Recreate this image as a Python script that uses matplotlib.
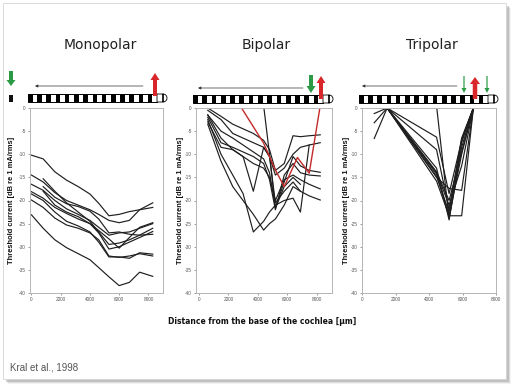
import numpy as np
import matplotlib
matplotlib.use('Agg')
import matplotlib.pyplot as plt
from matplotlib.patches import Rectangle, Polygon, FancyArrow

plt.rcParams['axes.unicode_minus'] = False

# ---------------- data ----------------
titles = ['Monopolar', 'Bipolar', 'Tripolar']
ylabel = 'Threshold current [dB re 1 mA/rms]'
xlabel = 'Distance from the base of the cochlea [µm]'
credit = 'Kral et al., 1998'
y_ticks = [0, -5, -10, -15, -20, -25, -30, -35, -40]
x_ticks = [0, 2000, 4000, 6000, 8000]

nan = np.nan
mono_x = [0, 800, 1600, 2400, 3200, 4000, 4600, 5300, 6000, 6700, 7400, 8300]
mono_lines = [
    [-10.2, -11.0, -13.8, -15.6, -17.0, -18.6, -20.6, -23.3, -23.0, -22.4, -22.0, -21.5],
    [-14.5, -16.0, -18.3, -20.0, -21.0, -22.0, -23.0, -24.3, -24.8, -24.3, -22.0, -20.5],
    [-16.5, -17.8, -20.0, -21.8, -23.0, -24.3, -25.8, -27.5, -27.0, -26.8, -26.0, -25.0],
    [-18.1, -19.5, -21.5, -22.8, -24.0, -25.0, -26.5, -28.3, -30.3, -28.0, -25.8, -24.8],
    [-19.9, -21.5, -23.8, -25.3, -26.0, -27.0, -28.5, -32.0, -32.3, -32.0, -31.5, -32.0],
    [-23.1, -26.0, -28.5, -30.2, -31.5, -32.8, -34.5, -36.5, -38.4, -37.7, -35.5, -36.4],
    [nan, -15.3, -18.0, -20.5, -22.5, -24.5, -26.8, -29.5, -29.2, -28.5, -27.5, -26.0],
    [nan, -17.0, -19.3, -20.7, -21.3, -22.3, -24.0, -27.0, -26.8, -27.3, -27.5, -27.3],
    [-18.6, -20.0, -22.5, -24.5, -25.5, -26.8, -29.0, -32.2, -32.2, -32.5, -31.3, -31.6],
    [nan, -18.0, -21.0, -22.5, -23.5, -25.0, -27.0, -30.5, -30.0, -29.0, -28.0, -26.7],
]

bi_x = [600, 1500, 2300, 3000, 3700, 4400, 4800, 5200, 5800, 6400, 6900, 7500, 8250]
bi_lines = [
    [0.0, -1.8, -3.5, -4.5, -5.5, -7.0, -9.0, -13.5, -12.0, -6.0, -6.2, -6.0, -5.8],
    [-0.5, -2.5, -5.5, -6.5, -7.5, -8.5, -10.5, -14.5, -13.0, -10.0, -8.5, -8.0, -7.5],
    [-1.5, -5.0, -6.5, -8.0, -9.5, -11.0, -14.0, -21.5, -16.0, -10.5, -12.5, -13.5, -13.9],
    [-2.0, -7.5, -8.5, -9.5, -10.5, -12.0, -15.5, -22.0, -14.5, -12.0, -14.0, -14.5, -14.7],
    [-3.0, -8.5, -9.0, -10.5, -12.0, -13.0, -15.0, -20.0, -15.5, -14.5, -15.5, -16.5, -17.5],
    [-1.5, -6.5, -9.0, -10.5, -18.0, -8.5, -10.5, -20.5, -18.0, -16.0, -18.0, -19.0, -19.9],
    [-2.5, -10.0, -14.5, -18.5, -26.8, -24.5, -22.5, -21.0, -20.0, -19.5, -22.5, -8.0, nan],
    [nan, nan, nan, nan, nan, 0.5, -10.0, -21.7, -17.0, -15.0, -16.5, nan, nan],
    [-3.5, -11.5, -17.0, -20.0, -23.0, -26.4, -25.0, -24.0, -21.0, -17.0, -18.0, nan, nan],
]
bi_red_x = [2800, 4400, 5200, 5800, 6700, 7500, 8250]
bi_red_y = [0.5, -7.6, -13.4, -17.0, -10.7, -14.1, 0.5]

tri_x = [730, 1500, 4450, 5200, 5950, 6650]
tri_lines = [
    [-1.2, 0, -6.3, -18.5, -7.0, 0],
    [-3.2, 0, -9.0, -22.0, -6.5, 0],
    [-6.6, 0, -13.0, -24.2, -8.5, 0],
    [nan, 0, -14.3, -23.5, -10.0, 0],
    [nan, 0, -15.0, -17.4, -17.8, 0],
    [nan, 0, -15.8, -23.3, -23.3, 0],
    [nan, 0, -14.0, -21.0, -12.5, 0],
    [nan, nan, 0.5, -23.9, -7.5, 0],
    [nan, 0, -13.8, -20.0, -9.5, 0],
    [nan, 0, -14.8, -22.5, -6.8, 0],
]

# ---------------- layout ----------------
W, H = 512, 384
fig = plt.figure(figsize=(W / 100, H / 100), dpi=100)
fig.patch.set_facecolor('white')

bg = fig.add_axes([0, 0, 1, 1], zorder=-1)
bg.set_xlim(0, W)
bg.set_ylim(H, 0)
bg.axis('off')

# slide with shadow
for i, a in enumerate([0.10, 0.18, 0.30]):
    off = 5 - i
    bg.add_patch(Rectangle((3 + off, 3 + off), 503, 376, facecolor='#808080',
                           edgecolor='none', alpha=a))
bg.add_patch(Rectangle((3, 3), 503, 376, facecolor='white', edgecolor='#d4d4d4', lw=0.6))

# axes positions in pixels: (left, right, xlim)
panels = [
    (30, 163, (-100, 9000)),
    (196, 332, (-200, 9050)),
    (362, 496, (0, 8000)),
]
top_px, bot_px = 108, 293
title_x = [100, 266, 432]
ylab_x = [12, 180, 346]

line_color = '#1e1e1e'
data = [(mono_x, mono_lines), (bi_x, bi_lines), (tri_x, tri_lines)]

axes = []
for k, (l, r, xl) in enumerate(panels):
    ax = fig.add_axes([l / W, (H - bot_px) / H, (r - l) / W, (bot_px - top_px) / H])
    ax.set_xlim(*xl)
    ax.set_ylim(-40, 0)
    xs, lines = data[k]
    for ys in lines:
        ax.plot(xs, ys, color=line_color, lw=0.85)
    if k == 1:
        ax.plot(bi_red_x, bi_red_y, color='#c42a2a', lw=1.0)
    ax.set_yticks(y_ticks)
    ax.set_xticks(x_ticks)
    ax.set_yticklabels([str(v) for v in y_ticks])
    ax.set_xticklabels([str(v) for v in x_ticks])
    ax.tick_params(labelsize=3.4, colors='#555555', length=1.5, width=0.4, pad=1.5)
    for lab in ax.get_xticklabels() + ax.get_yticklabels():
        lab.set_family('Liberation Sans')
    for s in ax.spines.values():
        s.set_color('#b5b5b5')
        s.set_linewidth(0.7)
    axes.append(ax)
    bg.text(title_x[k], 45, titles[k], ha='center', va='center', fontsize=10,
            color='#222222', family='DejaVu Sans')
    bg.text(ylab_x[k], (top_px + bot_px) / 2, ylabel, rotation=90, ha='center',
            va='center', fontsize=5.4, fontweight='bold', color='#111111',
            family=['Liberation Sans Narrow', 'Liberation Sans'])

bg.text(262, 321, xlabel, ha='center', va='center', fontsize=5.5,
        fontweight='bold', color='#111111', family='DejaVu Sans')
bg.text(10, 368, credit, ha='left', va='center', fontsize=7, color='#555555',
        family='Liberation Sans')


# ---------------- electrode drawings ----------------
def electrode(x0, x1, y0, y1, n, tip):
    bg.add_patch(Rectangle((x0, y0), x1 - x0, y1 - y0, facecolor='white',
                           edgecolor='black', lw=0.7))
    p = (x1 - x0) / n
    for i in range(n):
        bg.add_patch(Rectangle((x0 + i * p, y0), p * 0.5, y1 - y0,
                               facecolor='black', edgecolor='none'))
    ym = (y0 + y1) / 2
    h = (y1 - y0) / 2
    t = np.linspace(-np.pi / 2, np.pi / 2, 20)
    pts = [(x1, y0), (x1 + tip - h, y0)] + \
          [(x1 + tip - h + h * np.cos(a), ym + h * np.sin(a)) for a in -t] + \
          [(x1 + tip - h, y1), (x1, y1)]
    bg.add_patch(Polygon(pts, closed=True, facecolor='white', edgecolor='black', lw=0.6))


def thin_arrow(xa, xb, y):
    bg.annotate('', xy=(xa, y), xytext=(xb, y),
                arrowprops=dict(arrowstyle='-|>', lw=0.5, color='#333333',
                                mutation_scale=4, shrinkA=0, shrinkB=0))


green, red = '#2a9a45', '#d8262a'

electrode(28, 157, 94, 102, 14, 10)
bg.add_patch(FancyArrow(11, 71, 0, 15, width=4, head_width=9, head_length=6,
                        length_includes_head=True, color=green, lw=0))
bg.add_patch(Rectangle((9, 95), 4, 7, facecolor='#111111', edgecolor='none'))
bg.add_patch(FancyArrow(155, 96, 0, -23, width=4, head_width=9, head_length=7,
                        length_includes_head=True, color=red, lw=0))
thin_arrow(35, 143, 86)

electrode(193, 323, 95, 103, 14, 10)
bg.add_patch(FancyArrow(311, 75, 0, 18, width=4, head_width=9, head_length=7,
                        length_includes_head=True, color=green, lw=0))
bg.add_patch(FancyArrow(321, 99, 0, -23, width=4, head_width=9, head_length=7,
                        length_includes_head=True, color=red, lw=0))
thin_arrow(198, 303, 88)

electrode(359, 488, 95, 103, 14, 10)
bg.add_patch(FancyArrow(464, 76, 0, 17, width=1.2, head_width=5, head_length=5,
                        length_includes_head=True, color=green, lw=0))
bg.add_patch(FancyArrow(487, 76, 0, 17, width=1.2, head_width=5, head_length=5,
                        length_includes_head=True, color=green, lw=0))
bg.add_patch(FancyArrow(475, 99, 0, -22, width=4.5, head_width=10, head_length=7,
                        length_includes_head=True, color=red, lw=0))
thin_arrow(362, 457, 86)

fig.savefig('out.png', dpi=100, facecolor='white')
